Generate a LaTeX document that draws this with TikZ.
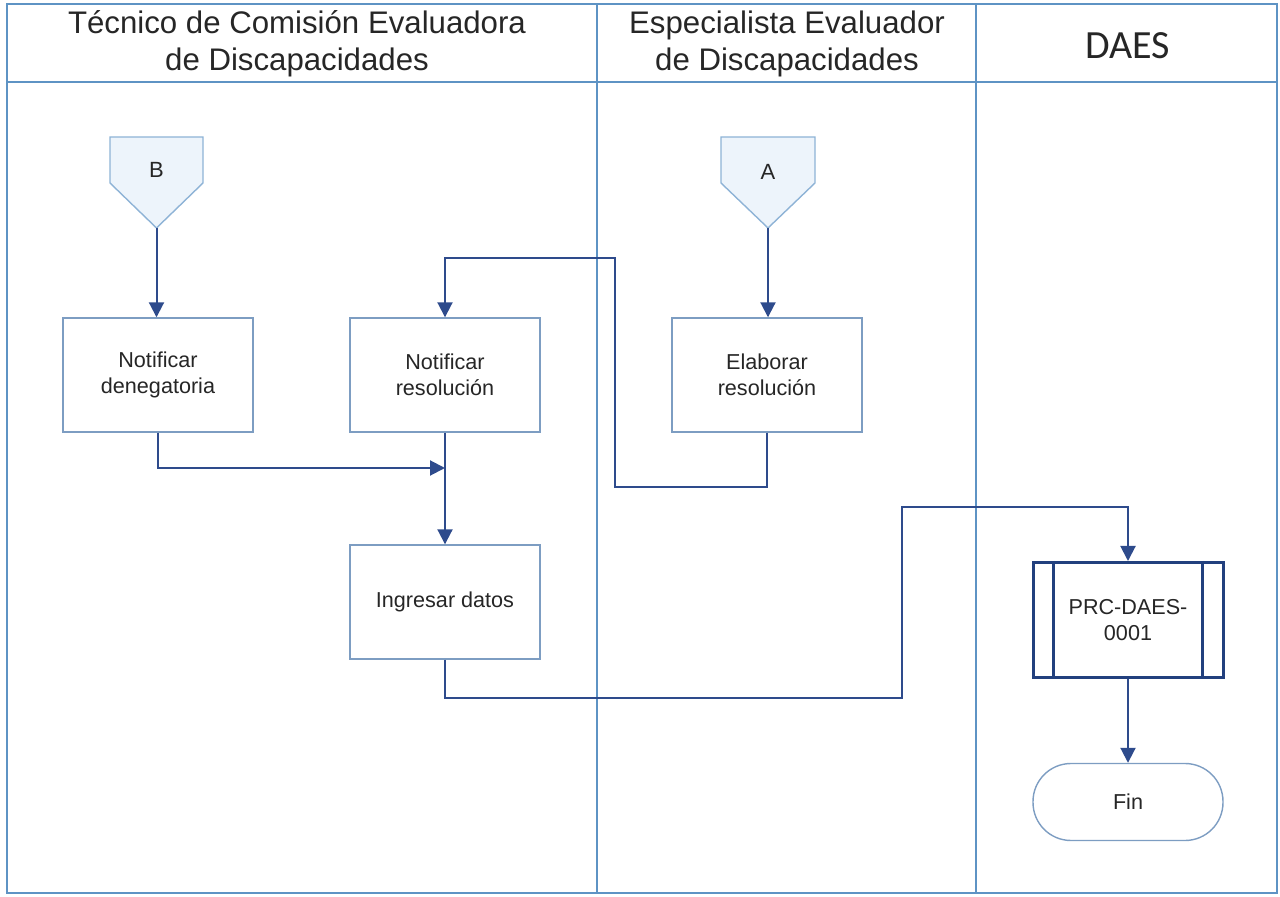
\documentclass[tikz,border=0pt]{standalone}
\usepackage{fontspec}
\setmainfont{Liberation Sans}
\newfontfamily\calib{Carlito}
\usetikzlibrary{arrows.meta,positioning}
\definecolor{lane}{HTML}{5E93C4}
\definecolor{boxc}{HTML}{7D9DC2}
\definecolor{conn}{HTML}{2E4B8C}
\definecolor{subc}{HTML}{22407E}
\definecolor{offfill}{HTML}{EDF4FB}
\tikzset{
  laneline/.style={draw=lane, line width=0.8pt},
  hdr/.style={font=\fontsize{15.6}{18.5}\selectfont, align=center, text=black!85},
  task/.style={draw=boxc, line width=0.7pt, fill=white, minimum width=95pt, minimum height=57pt, align=center, font=\fontsize{10.8}{13}\selectfont, text=black!85, inner sep=2pt},
  subproc/.style={draw=subc, line width=1.5pt, fill=white, minimum width=95pt, minimum height=57.5pt, align=center, font=\fontsize{10.8}{13}\selectfont, text=black!85},
  term/.style={draw=boxc, line width=0.7pt, fill=white, minimum width=95pt, minimum height=38.5pt, rounded corners=19pt, font=\fontsize{10.8}{13}\selectfont, text=black!85},
  offpage/.style={draw=lane!70, line width=0.7pt, fill=offfill},
  lbl/.style={font=\fontsize{11}{13}\selectfont, text=black!85},
  flow/.style={draw=conn, line width=1pt, -{Triangle[length=7.5pt,width=7.5pt]}},
}
\begin{document}
\begin{tikzpicture}[x=0.5pt,y=-0.5pt]
\useasboundingbox (0,0) rectangle (1280,897);
% frame and lanes
\draw[laneline] (7,4) rectangle (1277,893);
\draw[laneline] (7,82) -- (1277,82);
\draw[laneline] (597,4) -- (597,893);
\draw[laneline] (976,4) -- (976,893);
\node[hdr] (h1) at (297,44) {Técnico de Comisión Evaluadora\\de Discapacidades};
\node[hdr] (h2) at (787,44) {Especialista Evaluador\\de Discapacidades};
\node[hdr, font=\calib\fontsize{20}{22}\selectfont] (h3) at (1128,46) {DAES};
% off-page connectors
\draw[offpage] (110,137) -- (203,137) -- (203,183) -- (156.5,228) -- (110,183) -- cycle;
\node[lbl] (B) at (156.5,170) {B};
\coordinate (Btip) at (156.5,228);
\draw[offpage] (721,137) -- (815,137) -- (815,183) -- (768,228) -- (721,183) -- cycle;
\node[lbl] (A) at (768,172) {A};
\coordinate (Atip) at (768,228);
% tasks
\node[task] (ND) at (158,375) {Notificar\\denegatoria};
\node[task] (NR) at (445,375) {Notificar\\resolución};
\node[task] (ER) at (767,375) {Elaborar\\resolución};
\node[task] (ID) at (445,602) {Ingresar datos};
\node[subproc] (PRC) at (1128,620) {PRC-DAES-\\0001};
\draw[subc, line width=1.5pt] ([xshift=11pt]PRC.north west) -- ([xshift=11pt]PRC.south west);
\draw[subc, line width=1.5pt] ([xshift=-11pt]PRC.north east) -- ([xshift=-11pt]PRC.south east);
\node[term] (Fin) at (1128,802) {Fin};
% connectors
\coordinate (J) at (445,468);
\draw[flow] (Btip) -- (ND.north -| Btip);
\draw[flow] (Atip) -- (ER.north -| Atip);
\draw[flow] (ND.south) |- (J);
\draw[flow] (NR) -- (ID);
\draw[flow] (ER.south) -- (767,487) -| (615,258) -| (NR.north);
\draw[flow] (ID.south) -- (445,698) -| (902,507) -| (PRC.north);
\draw[flow] (PRC) -- (Fin);
\end{tikzpicture}
\end{document}
